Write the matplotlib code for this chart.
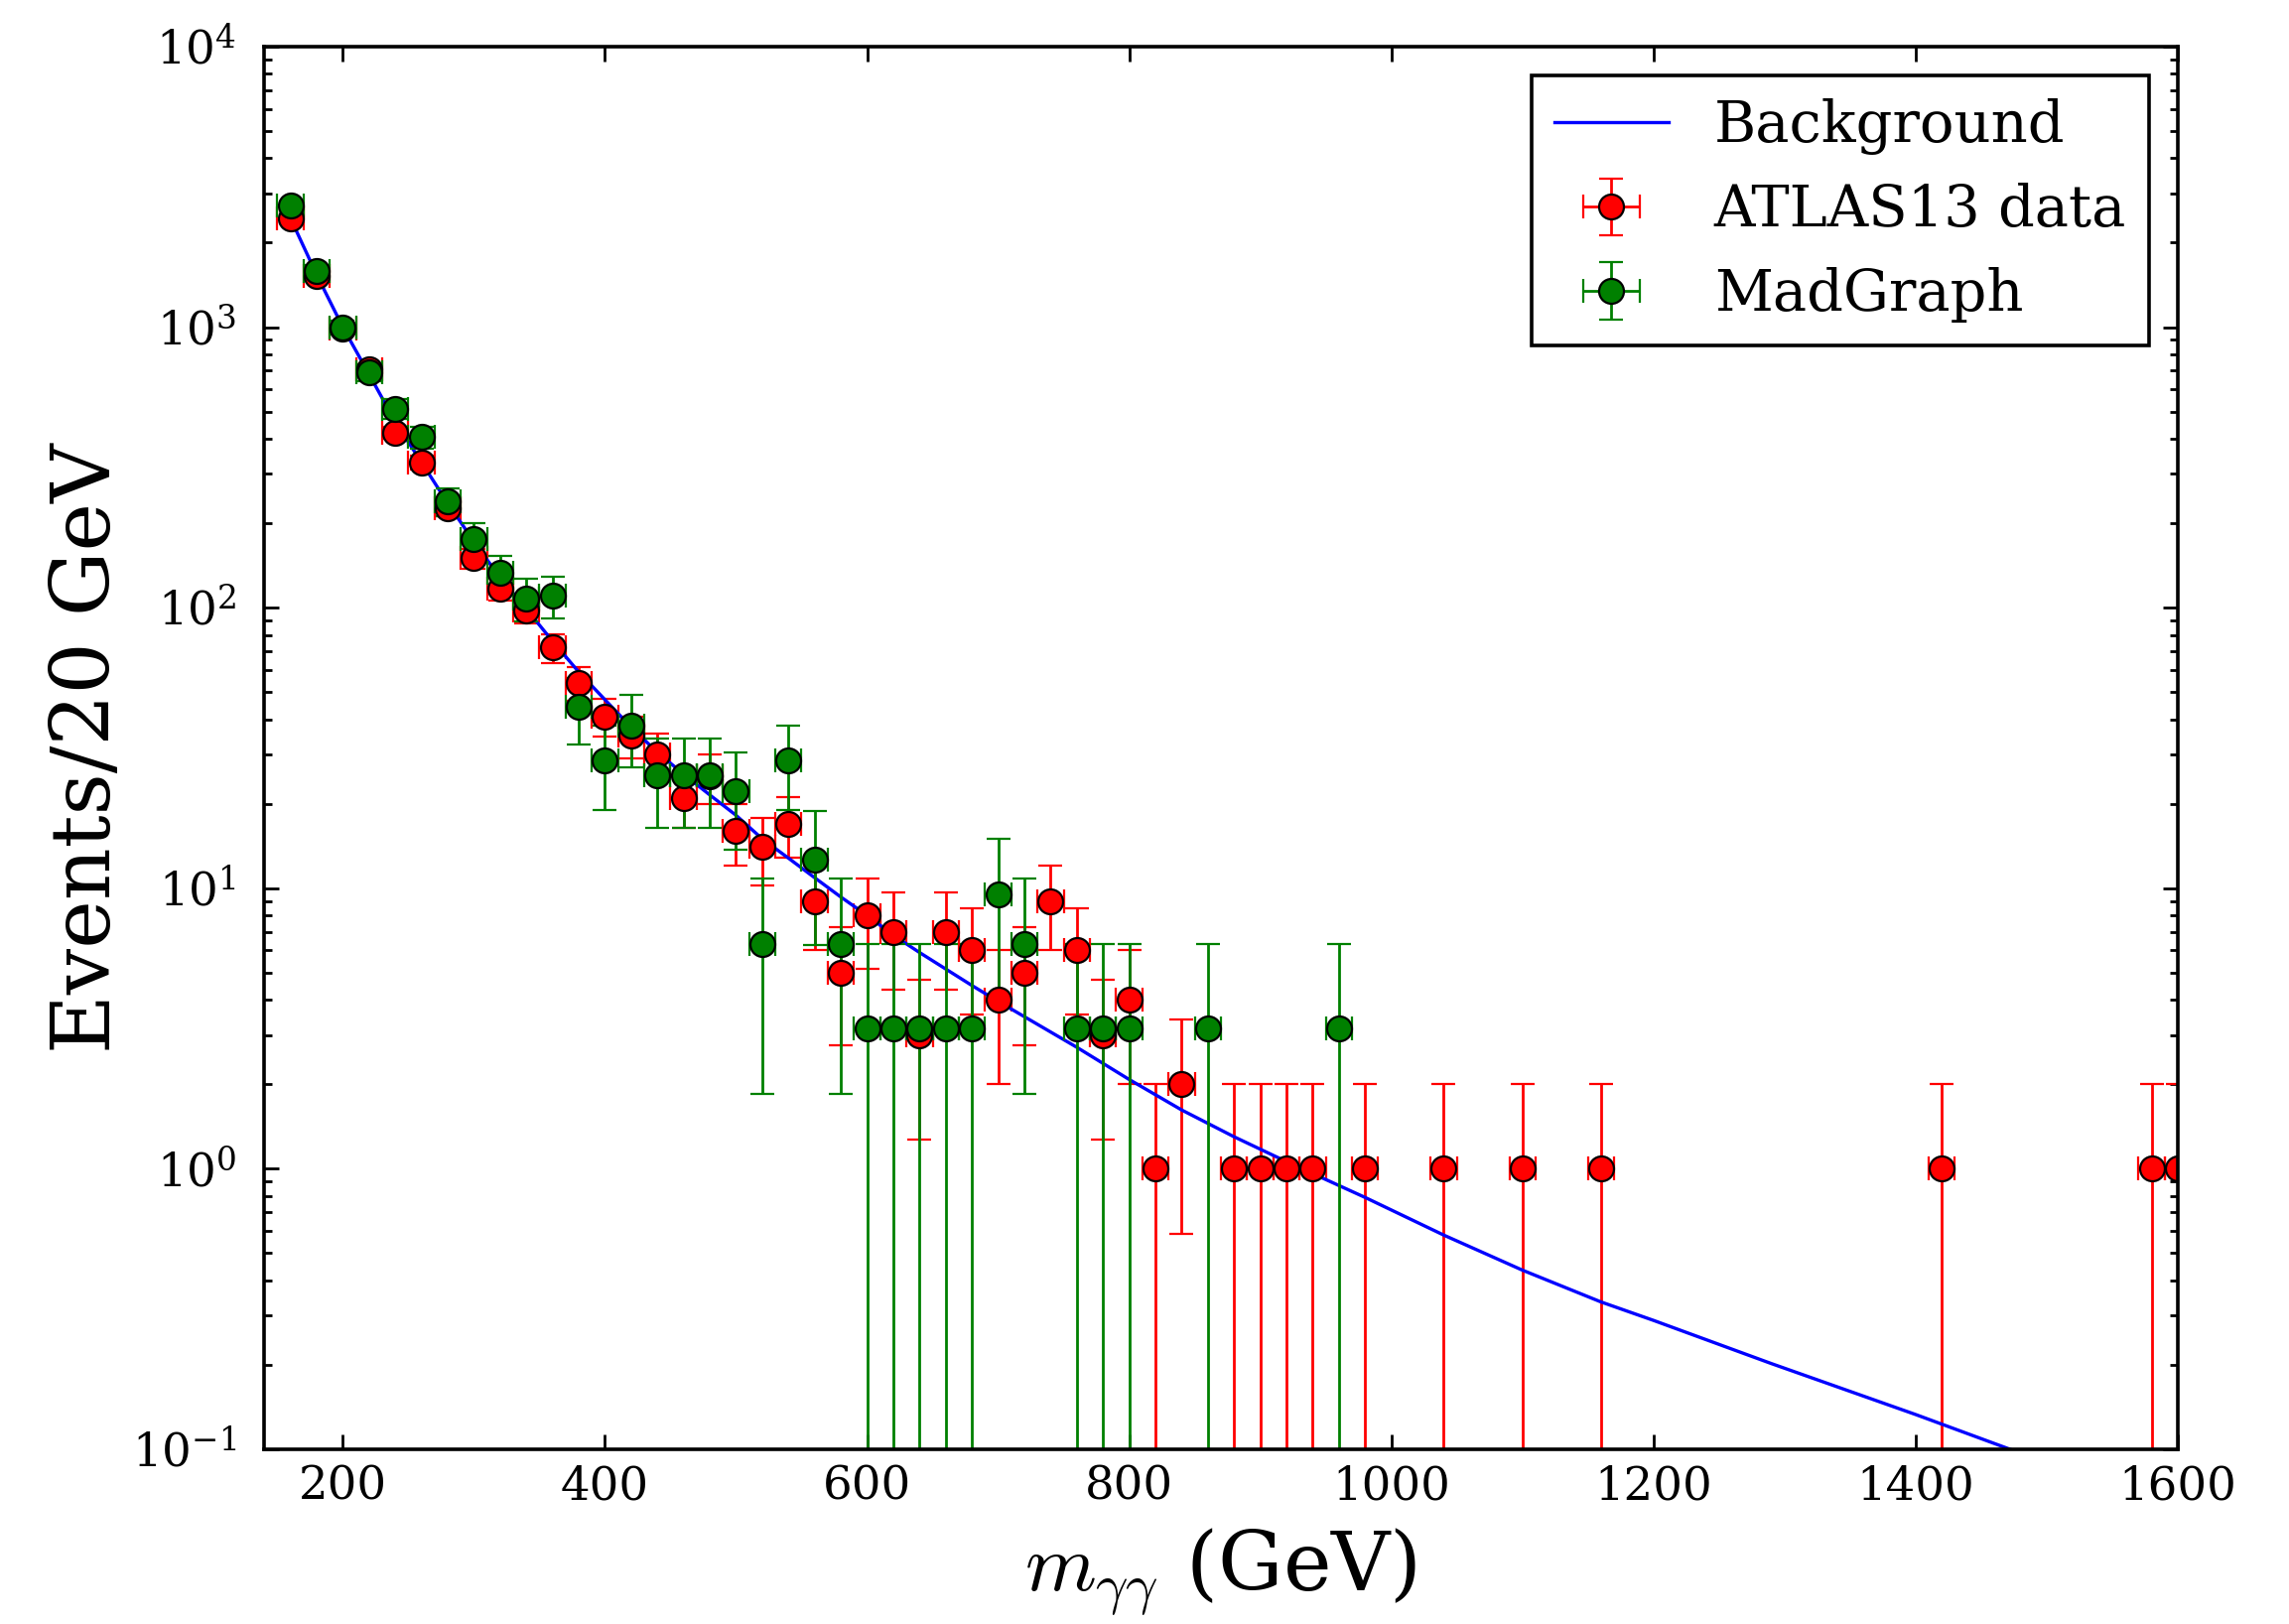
import numpy as np
import matplotlib
matplotlib.use("Agg")
import matplotlib.pyplot as plt

# ------------------------------------------------------------
# DATA
# ------------------------------------------------------------

# ATLAS 13 TeV diphoton events per 20 GeV bin
atlas_x = [160, 180, 200, 220, 240, 260, 280, 300, 320, 340,
           360, 380, 400, 420, 440, 460, 480, 500, 520, 540,
           560, 580, 600, 620, 640, 660, 680, 700, 720, 740,
           760, 780, 800, 820, 840, 880, 900, 920, 940, 980,
           1040, 1100, 1160, 1420, 1580, 1600]
atlas_y = [2440, 1520, 990, 710, 420, 330, 227, 150, 117, 98,
           72, 54, 41, 35, 30, 21, 25, 16, 14, 17,
           9, 5, 8, 7, 3, 7, 6, 4, 5, 9,
           6, 3, 4, 1, 2, 1, 1, 1, 1, 1,
           1, 1, 1, 1, 1, 1]

# MadGraph prediction (weighted events, weight ~ 3.162)
mg_x = [160, 180, 200, 220, 240, 260, 280, 300, 320, 340,
        360, 380, 400, 420, 440, 460, 480, 500, 520, 540,
        560, 580, 600, 620, 640, 660, 680, 700, 720, 760,
        780, 800, 860, 960]
mg_y = [2720, 1590, 1000, 690, 512, 406, 239, 176, 133, 108,
        110, 44.3, 28.5, 37.9, 25.3, 25.3, 25.3, 22.1, 6.32, 28.5,
        12.6, 6.32, 3.162, 3.162, 3.162, 3.162, 3.162, 9.49, 6.32, 3.162,
        3.162, 3.162, 3.162, 3.162]
MG_WEIGHT = 3.162

# background fit curve, sampled from the figure
bkg_x = [160, 180, 200, 220, 240, 260, 280, 300, 320, 340,
         360, 380, 400, 420, 440, 460, 480, 500, 520, 540,
         560, 580, 600, 620, 640, 680, 700, 760, 800, 840,
         880, 920, 980, 1040, 1100, 1160, 1200, 1290, 1400, 1472]
bkg_y = [2450, 1540, 1000, 680, 460, 330, 236, 172, 128, 99,
         76, 59, 47, 37.5, 30.5, 25.5, 21.5, 18.2, 15.0, 12.8,
         10.9, 9.3, 8.0, 6.8, 5.9, 4.5, 3.95, 2.71, 2.08, 1.62,
         1.3, 1.06, 0.79, 0.58, 0.435, 0.335, 0.288, 0.202, 0.133, 0.1]

BIN_HALF = 10  # GeV

# ------------------------------------------------------------
# STYLE
# ------------------------------------------------------------

plt.rcParams["font.family"] = ["DejaVu Serif"]
plt.rcParams["mathtext.fontset"] = "cm"

DPI = 200
fig = plt.figure(figsize=(2306 / DPI, 1636 / DPI), dpi=DPI)
ax = fig.add_axes([0.1154, 0.1076, 0.8360, 0.8637])

atlas_x = np.array(atlas_x, dtype=float)
atlas_y = np.array(atlas_y, dtype=float)
mg_x = np.array(mg_x, dtype=float)
mg_y = np.array(mg_y, dtype=float)

ax.set_yscale("log")

err_kw = dict(fmt="o", markersize=9, markeredgecolor="black",
              markeredgewidth=0.8, elinewidth=1.0, capsize=4.3, capthick=1.0)

h_atlas = ax.errorbar(atlas_x, atlas_y, xerr=BIN_HALF, yerr=np.sqrt(atlas_y),
                      color="red", markerfacecolor="red", **err_kw)

h_bkg, = ax.plot(bkg_x, bkg_y, color="blue", linewidth=1.2)

h_mg = ax.errorbar(mg_x, mg_y, xerr=BIN_HALF, yerr=np.sqrt(mg_y * MG_WEIGHT),
                   color="green", markerfacecolor="green", **err_kw)

ax.set_xlim(140, 1600)
ax.set_ylim(0.1, 1e4)
ax.set_xticks(np.arange(200, 1601, 200))

ax.tick_params(which="both", direction="in", top=True, right=True)
ax.tick_params(which="major", length=5.4, width=1.0, labelsize=16.8)
ax.tick_params(which="minor", length=2.9, width=1.0)
ax.tick_params(axis="x", pad=5.5)
ax.tick_params(axis="y", pad=10)
for sp in ax.spines.values():
    sp.set_linewidth(1.3)

ax.set_xlabel(r"$m_{\gamma\gamma}$ (GeV)", fontsize=29.5, labelpad=6)
ax.set_ylabel("Events/20 GeV", fontsize=29.5, labelpad=2)

leg = ax.legend([h_bkg, h_atlas, h_mg], ["Background", "ATLAS13 data", "MadGraph"],
                loc="upper right", fontsize=20.7, fancybox=False, framealpha=1,
                edgecolor="black", numpoints=1, borderaxespad=0.5,
                handlelength=2.0, handletextpad=0.8, labelspacing=0.5)
leg.get_frame().set_linewidth(1.3)

fig.savefig("out.png", dpi=DPI, facecolor="white")
plt.close(fig)
